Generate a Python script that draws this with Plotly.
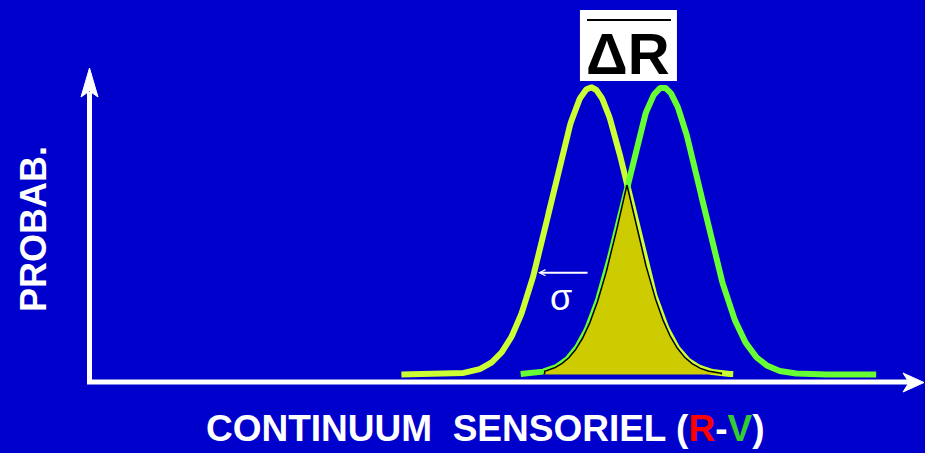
import numpy as np
import plotly.graph_objects as go

# ---- model: two normal distributions on the sensory continuum (units of sigma)
SIGMA = 1.0
MU_R = 0.0            # response distribution on the "R" side
MU_V = 1.82           # response distribution on the "V" side
R_SPAN = (-4.8, 3.6)  # drawn extent, relative to the mean
V_SPAN = (-3.6, 5.4)
OVERLAP_SPAN = (MU_V - 3.0, MU_R + 3.3)
SIGMA_MARK_LEVEL = 0.1415   # density level of the sigma arrow
SIGMA_MARK_TIP = -1.34      # where the arrow meets the R curve

Y_LABEL = "PROBAB."
X_LABEL_PARTS = [("CONTINUUM\u00a0\u00a0SENSORIEL (", "white"), ("R", "#FF0000"),
                 ("-", "white"), ("V", "#33CC33"), (")", "white")]
DELTA_LABEL = "ΔR"
SIGMA_LABEL = "σ"

# ---- page geometry (pixels)
W, H = 925, 453
MEAN_R_PX, PX_PER_SIGMA = 591, 39.5
BASE_PX, PEAK_PX = 374.5, 87.5

BG = "#0000CC"
COL_R = "#CCFF33"
COL_V = "#66FF33"
FILL = "#CCCC00"
FONT = "Liberation Sans, Arial, sans-serif"


def pdf(x, mu, s=SIGMA):
    return np.exp(-0.5 * ((x - mu) / s) ** 2) / (s * np.sqrt(2 * np.pi))


peak = pdf(MU_R, MU_R)
px_per_unit = (BASE_PX - PEAK_PX) / peak
x_range = [(0 - MEAN_R_PX) / PX_PER_SIGMA, (W - MEAN_R_PX) / PX_PER_SIGMA]
y_range = [-(H - BASE_PX) / px_per_unit, BASE_PX / px_per_unit]


def px(x):
    return x / W


def py(y):
    return 1 - y / H


xr = np.linspace(MU_R + R_SPAN[0], MU_R + R_SPAN[1], 400)
xv = np.linspace(MU_V + V_SPAN[0], MU_V + V_SPAN[1], 400)
xo = np.linspace(OVERLAP_SPAN[0], OVERLAP_SPAN[1], 400)
yo = np.minimum(pdf(xo, MU_R), pdf(xo, MU_V))

fig = go.Figure()
fig.add_trace(go.Scatter(x=xr, y=pdf(xr, MU_R), mode="lines",
                         line=dict(color=COL_R, width=6), hoverinfo="skip"))
fig.add_trace(go.Scatter(x=xv, y=pdf(xv, MU_V), mode="lines",
                         line=dict(color=COL_V, width=6), hoverinfo="skip"))
fig.add_trace(go.Scatter(x=np.concatenate([[xo[0]], xo, [xo[-1]]]),
                         y=np.concatenate([[0], yo, [0]]),
                         mode="lines", fill="toself", fillcolor=FILL,
                         line=dict(color="black", width=1.5), hoverinfo="skip"))

shapes = []
# axes with arrowheads
shapes.append(dict(type="path", xref="paper", yref="paper",
                   path=f"M{px(89.5)},{py(92)} L{px(89.5)},{py(382)} L{px(910)},{py(382)}",
                   line=dict(color="white", width=5)))
shapes.append(dict(type="path", xref="paper", yref="paper",
                   path=(f"M{px(89.5)},{py(68)} L{px(98)},{py(97)} L{px(89.5)},{py(91)} "
                         f"L{px(81)},{py(97)} Z"),
                   fillcolor="white", line=dict(color="white", width=1)))
shapes.append(dict(type="path", xref="paper", yref="paper",
                   path=(f"M{px(924)},{py(382.5)} L{px(903)},{py(373)} L{px(909)},{py(382.5)} "
                         f"L{px(903)},{py(392)} Z"),
                   fillcolor="white", line=dict(color="white", width=1)))
# label box for the mean difference
mid = (MU_R + MU_V) / 2
shapes.append(dict(type="rect", xref="x", xsizemode="pixel", xanchor=mid,
                   x0=-47, x1=50, yref="paper", y0=py(81), y1=py(10),
                   fillcolor="white", line=dict(width=0)))
shapes.append(dict(type="line", xref="x", xsizemode="pixel", xanchor=mid,
                   x0=-40, x1=44, yref="paper", y0=py(20), y1=py(20),
                   line=dict(color="black", width=2.2)))

annotations = [
    dict(x=mid, xref="x", y=py(54), yref="paper", text=f"<b>{DELTA_LABEL}</b>",
         showarrow=False, font=dict(family=FONT, size=58, color="black"),
         xanchor="center", yanchor="middle", xshift=1),
    dict(x=SIGMA_MARK_TIP, y=SIGMA_MARK_LEVEL, xref="x", yref="y",
         ax=MU_R - 0.05, ay=SIGMA_MARK_LEVEL, axref="x", ayref="y",
         showarrow=True, arrowhead=5, arrowsize=0.6, arrowwidth=2,
         arrowcolor="white", text=""),
    dict(x=(SIGMA_MARK_TIP + MU_R) / 2, y=SIGMA_MARK_LEVEL, xref="x", yref="y",
         text=SIGMA_LABEL, showarrow=False, yshift=-25, xshift=-4,
         xanchor="center", yanchor="middle",
         font=dict(family=FONT, size=36, color="white")),
    dict(x=px(33), y=py(229), xref="paper", yref="paper", text=f"<b>{Y_LABEL}</b>",
         textangle=-90, showarrow=False, xanchor="center", yanchor="middle",
         font=dict(family=FONT, size=36, color="white")),
    dict(x=px(485), y=py(428), xref="paper", yref="paper",
         text="<b>" + "".join(f'<span style="color:{c}">{t}</span>' for t, c in X_LABEL_PARTS) + "</b>",
         showarrow=False, xanchor="center", yanchor="middle",
         font=dict(family=FONT, size=37, color="white")),
]

fig.update_layout(
    width=W, height=H, margin=dict(l=0, r=0, t=0, b=0),
    paper_bgcolor=BG, plot_bgcolor=BG, showlegend=False,
    xaxis=dict(range=x_range, visible=False, fixedrange=True),
    yaxis=dict(range=y_range, visible=False, fixedrange=True),
    shapes=shapes, annotations=annotations,
)

fig.write_html("out.html", config={"displayModeBar": False})
